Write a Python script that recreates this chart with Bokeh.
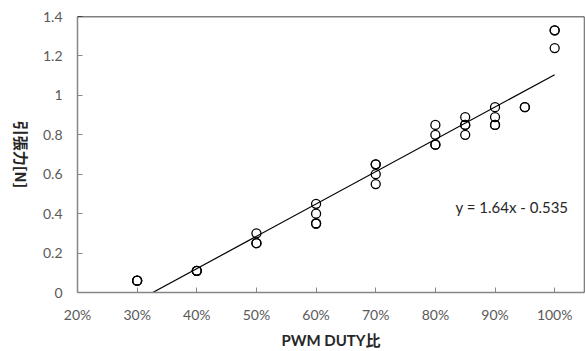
import math
from bokeh.plotting import figure
from bokeh.models import FixedTicker, Span, Label, ColumnDataSource
from bokeh.embed import file_html
from bokeh.resources import INLINE

# ---- data ----
duty = [0.30, 0.30, 0.30,
        0.40, 0.40, 0.40,
        0.50, 0.50, 0.50,
        0.60, 0.60, 0.60, 0.60,
        0.70, 0.70, 0.70, 0.70,
        0.80, 0.80, 0.80, 0.80,
        0.85, 0.85, 0.85, 0.85,
        0.90, 0.90, 0.90, 0.90,
        0.95, 0.95,
        1.00, 1.00, 1.00]
force = [0.06, 0.06, 0.06,
         0.11, 0.11, 0.11,
         0.30, 0.25, 0.25,
         0.45, 0.40, 0.35, 0.35,
         0.65, 0.65, 0.60, 0.55,
         0.85, 0.80, 0.75, 0.75,
         0.89, 0.85, 0.85, 0.80,
         0.94, 0.89, 0.85, 0.85,
         0.94, 0.94,
         1.33, 1.33, 1.24]

trend_slope = 1.64
trend_intercept = -0.535
trend_x = [0.30, 1.00]
trend_label = "y = 1.64x - 0.535"

x_ticks = [0.2, 0.3, 0.4, 0.5, 0.6, 0.7, 0.8, 0.9, 1.0]
x_tick_labels = ["20%", "30%", "40%", "50%", "60%", "70%", "80%", "90%", "100%"]
y_ticks = [0, 0.2, 0.4, 0.6, 0.8, 1.0, 1.2, 1.4]
y_tick_labels = ["0", "0.2", "0.4", "0.6", "0.8", "1", "1.2", "1.4"]

x_title = "PWM DUTY比"
y_title = "引張力[N]"

X_MIN, X_MAX = 0.2, 1.05
Y_MIN, Y_MAX = 0.0, 1.4

FONT = "Lato, 'Noto Sans CJK JP', sans-serif"
AXIS_GRAY = "#868686"
TEXT_GRAY = "#595959"

p = figure(width=585, height=351, output_backend="svg", toolbar_location=None,
           x_range=(X_MIN, X_MAX), y_range=(Y_MIN, Y_MAX),
           min_border_left=77, min_border_right=1, min_border_top=16, min_border_bottom=58)
p.outline_line_color = None
p.grid.grid_line_color = None
p.background_fill_color = "white"
p.border_fill_color = "white"

# plot area border (top/right black)
p.add_layout(Span(location=Y_MAX, dimension="width", line_color="black", line_width=1.3))
p.add_layout(Span(location=X_MAX, dimension="height", line_color="black", line_width=1.3))

for ax in (p.xaxis[0], p.yaxis[0]):
    ax.axis_line_color = AXIS_GRAY
    ax.axis_line_width = 1.5
    ax.major_tick_line_color = AXIS_GRAY
    ax.major_tick_in = 5
    ax.major_tick_out = 0
    ax.minor_tick_line_color = None
    ax.major_label_text_font = FONT
    ax.major_label_text_font_size = "14px"
    ax.major_label_text_color = TEXT_GRAY

p.xaxis.ticker = FixedTicker(ticks=x_ticks)
p.xaxis.major_label_overrides = dict(zip(x_ticks, x_tick_labels))
p.yaxis.ticker = FixedTicker(ticks=y_ticks)
p.yaxis.major_label_overrides = dict(zip(y_ticks, y_tick_labels))
p.yaxis.major_label_standoff = 15
p.xaxis.major_label_standoff = 13

p.xaxis.axis_label = x_title
p.xaxis.axis_label_text_font = FONT
p.xaxis.axis_label_text_font_style = "bold"
p.xaxis.axis_label_text_font_size = "15px"
p.xaxis.axis_label_text_color = "#262626"
p.xaxis.axis_label_standoff = 5

# y title rotated clockwise (reads top to bottom), placed in the left panel
p.add_layout(Label(x=3, y=138, x_units="screen", y_units="screen", text=y_title,
                   angle=-math.pi / 2, text_align="center", text_baseline="middle",
                   text_font="Noto Sans CJK JP", text_font_style="bold",
                   text_font_size="15px", text_color="#262626"), "left")

# trend line
trend_y = [trend_slope * x + trend_intercept for x in trend_x]
p.line(trend_x, trend_y, line_color="black", line_width=1.2)

src = ColumnDataSource(dict(x=duty, y=force))
p.scatter("x", "y", source=src, size=9, marker="circle", fill_color=None,
          line_color="black", line_width=1.3)

p.add_layout(Label(x=1.023, y=0.436, text=trend_label, text_align="right",
                   text_baseline="middle", text_font="Lato",
                   text_font_size="15px", text_color="#262626"))

open("out.html", "w").write(file_html(p, INLINE))
